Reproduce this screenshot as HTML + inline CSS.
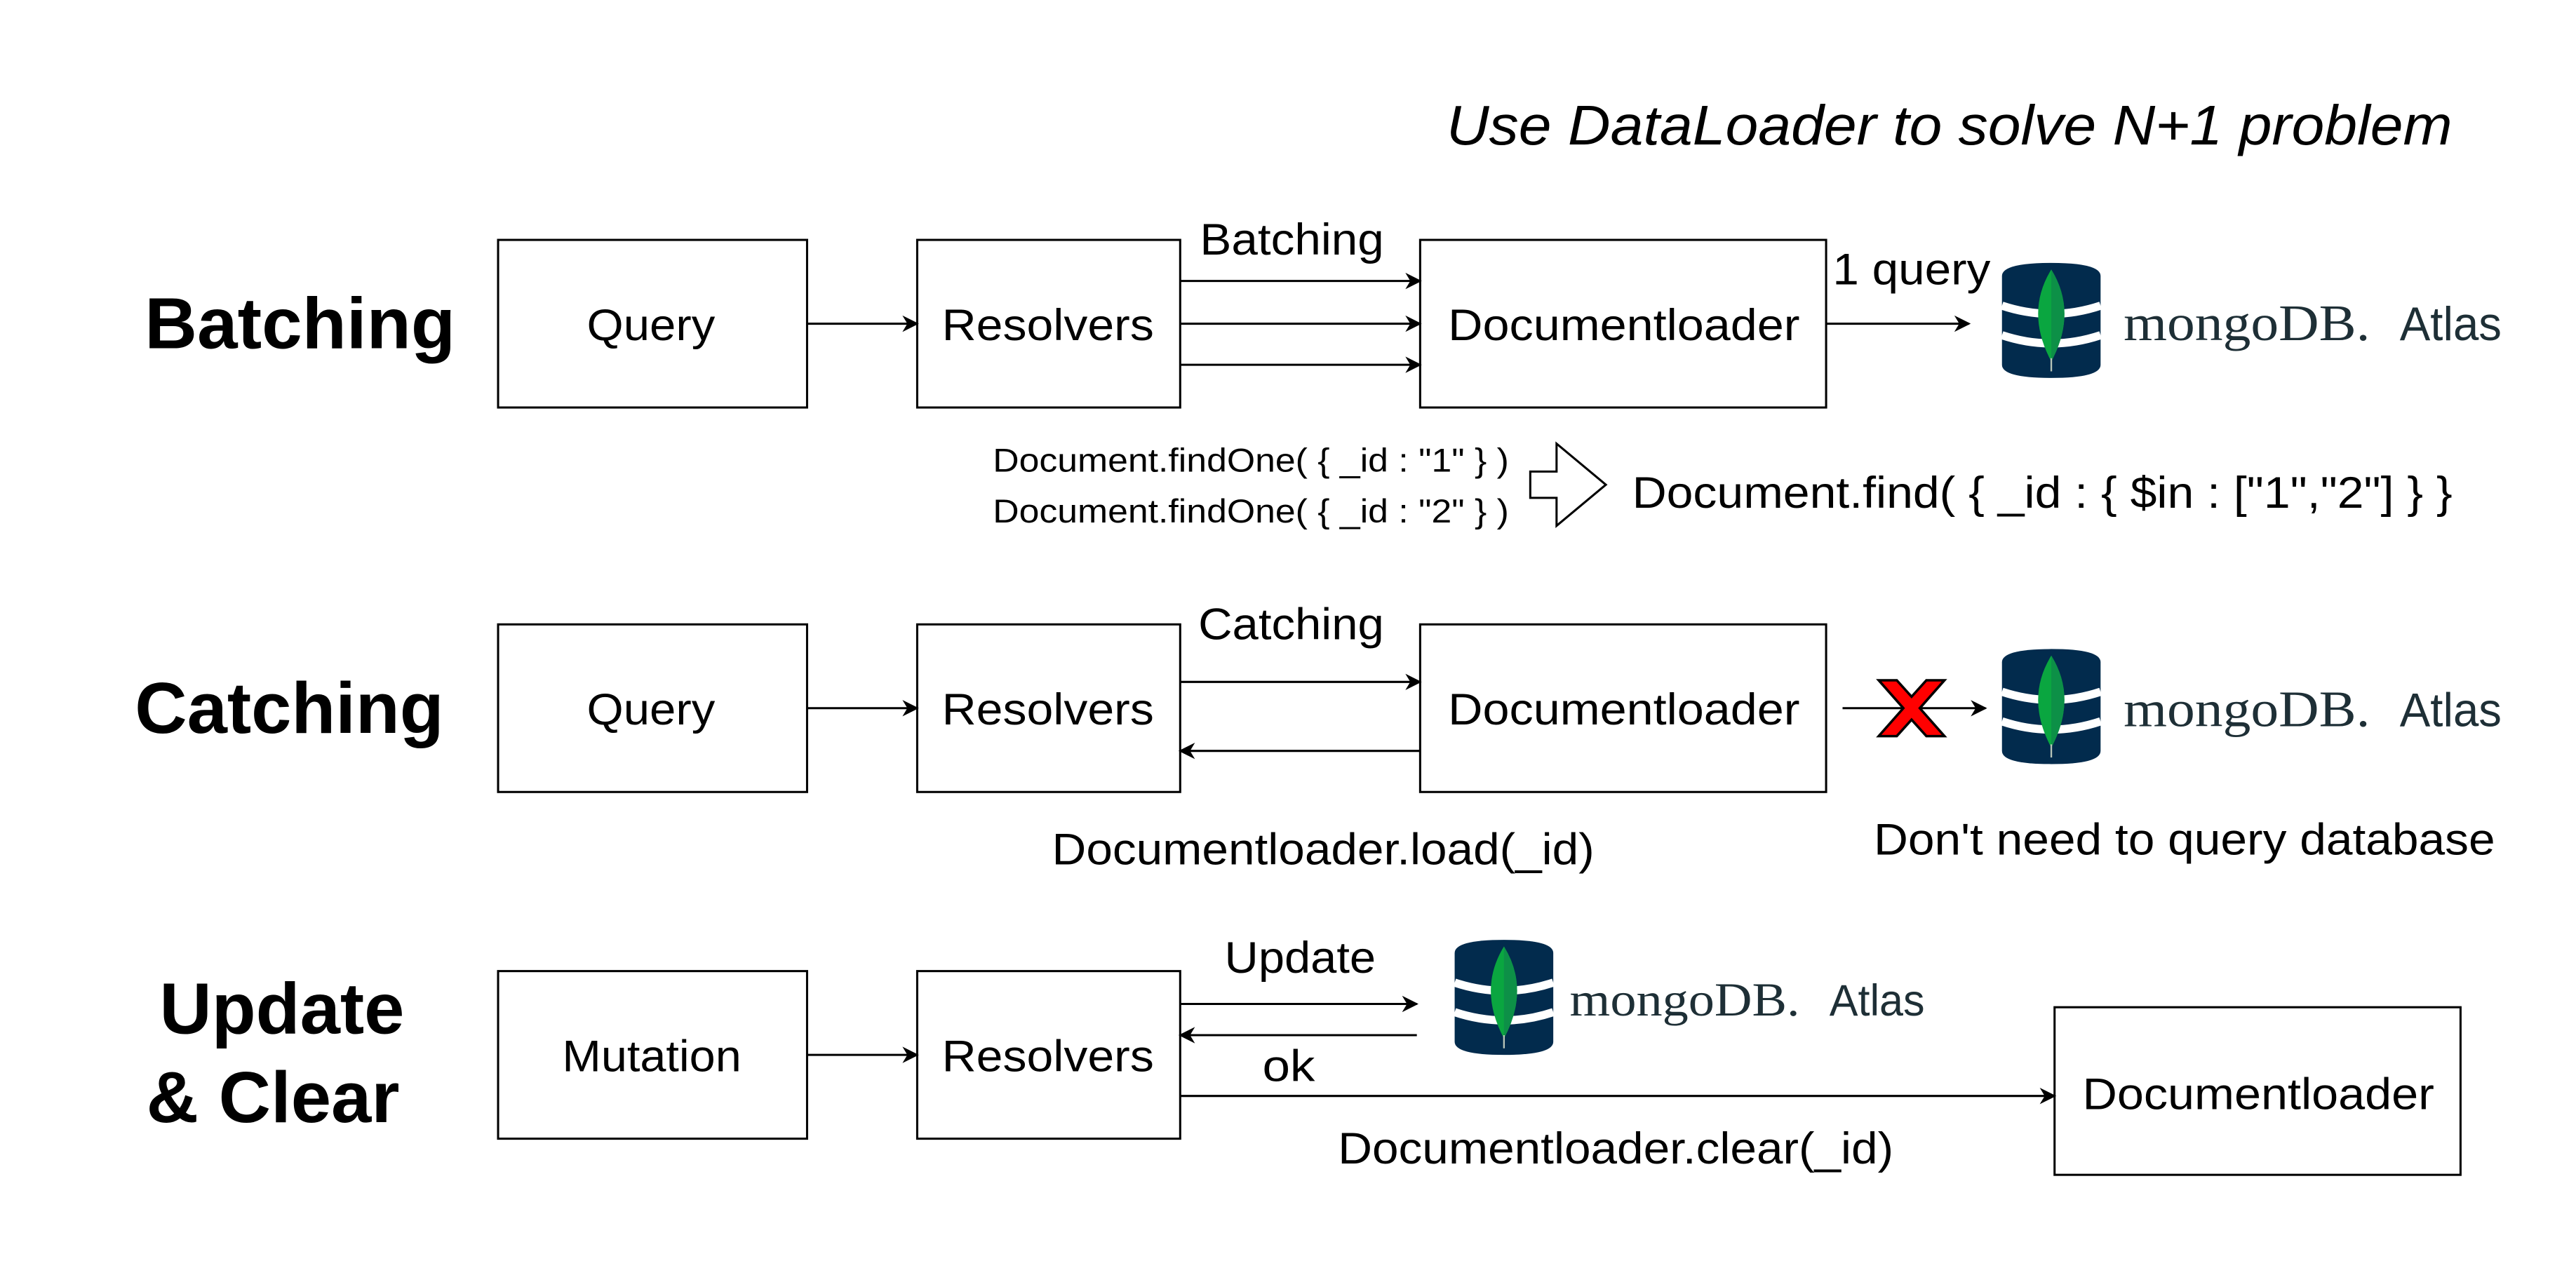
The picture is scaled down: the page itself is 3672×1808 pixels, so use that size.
<!DOCTYPE html>
<html><head><style>html,body{margin:0;padding:0;background:#fff}svg{display:block}text{font-family:"Liberation Sans",sans-serif;fill:#000}</style></head>
<body>
<svg width="3672" height="1808" viewBox="0 0 1567.2 771.7" xmlns="http://www.w3.org/2000/svg">
<defs>
<marker id="a" markerWidth="10" markerHeight="10" refX="9" refY="5" orient="auto" markerUnits="userSpaceOnUse" viewBox="0 0 10 10"><path d="M0,0 L10,5 L0,10 L3,5 Z" fill="#000"/></marker>
<g id="db">
<path d="M0,8 Q0,0 30,0 Q60,0 60,8 L60,62 Q60,70 30,70 Q0,70 0,62 Z" fill="#022b4d"/>
<path d="M0,26 Q30,36 60,26" stroke="#fff" stroke-width="5" fill="none"/>
<path d="M0,44 Q30,54 60,44" stroke="#fff" stroke-width="5" fill="none"/>
<path d="M30,4 Q46,30 30,60 Q14,30 30,4 Z" fill="#0aa640"/>
<path d="M30,4 Q46,30 30,60 Z" fill="#0d9047"/>
<path d="M30,58 L30,66" stroke="#b8c4b8" stroke-width="1"/>
</g>
</defs>
<g fill="#fff" stroke="#000" stroke-width="1.3">
<rect x="303" y="146" width="188" height="102"/><rect x="558" y="146" width="160" height="102"/><rect x="864" y="146" width="247" height="102"/>
<rect x="303" y="380" width="188" height="102"/><rect x="558" y="380" width="160" height="102"/><rect x="864" y="380" width="247" height="102"/>
<rect x="303" y="591" width="188" height="102"/><rect x="558" y="591" width="160" height="102"/><rect x="1250" y="613" width="247" height="102"/>
</g>
<g stroke="#000" stroke-width="1.3" marker-end="url(#a)">
<line x1="491" y1="197" x2="558" y2="197"/>
<line x1="718" y1="171" x2="864" y2="171"/><line x1="718" y1="197" x2="864" y2="197"/><line x1="718" y1="222" x2="864" y2="222"/>
<line x1="1111" y1="197" x2="1198" y2="197"/>
<line x1="491" y1="431" x2="558" y2="431"/>
<line x1="718" y1="415" x2="864" y2="415"/><line x1="864" y1="457" x2="718" y2="457"/>
<line x1="1121" y1="431" x2="1208" y2="431"/>
<line x1="491" y1="642" x2="558" y2="642"/>
<line x1="718" y1="611" x2="862" y2="611"/><line x1="862" y1="630" x2="718" y2="630"/>
<line x1="718" y1="667" x2="1250" y2="667"/>
</g>
<path d="M1143,414 L1154,414 L1163,424 L1172,414 L1183,414 L1168,431 L1183,448 L1172,448 L1163,438 L1154,448 L1143,448 L1158,431 Z" fill="#f00" stroke="#000" stroke-width="1.5"/>
<path d="M931,287 L947,287 L947,270 L977,295 L947,320 L947,303 L931,303 Z" fill="#fff" stroke="#000" stroke-width="1.3"/>
<use href="#db" x="1218" y="160"/><use href="#db" x="1218" y="395"/><use href="#db" x="885" y="572"/>
<g style="font-family:'Liberation Serif',serif" font-size="31">
<text x="1292" y="207" textLength="150" lengthAdjust="spacingAndGlyphs" style="fill:#1e2f36;font-family:'Liberation Serif',serif">mongoDB.</text>
<text x="1292" y="442" textLength="150" lengthAdjust="spacingAndGlyphs" style="fill:#1e2f36;font-family:'Liberation Serif',serif">mongoDB.</text>
<text x="955" y="618" font-size="29" textLength="140" lengthAdjust="spacingAndGlyphs" style="fill:#1e2f36;font-family:'Liberation Serif',serif">mongoDB.</text>
</g>
<text x="1460" y="207" font-size="29" textLength="62" lengthAdjust="spacingAndGlyphs" style="fill:#1e2f36">Atlas</text>
<text x="1460" y="442" font-size="29" textLength="62" lengthAdjust="spacingAndGlyphs" style="fill:#1e2f36">Atlas</text>
<text x="1113" y="618" font-size="27" textLength="58" lengthAdjust="spacingAndGlyphs" style="fill:#1e2f36">Atlas</text>
<g lengthAdjust="spacingAndGlyphs">
<text x="880" y="88" font-size="34" font-style="italic" textLength="612" lengthAdjust="spacingAndGlyphs">Use DataLoader to solve N+1 problem</text>
<g font-weight="bold" font-size="44">
<text x="88" y="212" textLength="189" lengthAdjust="spacingAndGlyphs">Batching</text>
<text x="82" y="446" textLength="188" lengthAdjust="spacingAndGlyphs">Catching</text>
<text x="97" y="629" textLength="149" lengthAdjust="spacingAndGlyphs">Update</text>
<text x="89" y="683" textLength="154" lengthAdjust="spacingAndGlyphs">&amp; Clear</text>
</g>
<g font-size="27">
<text x="357" y="207" textLength="78" lengthAdjust="spacingAndGlyphs">Query</text>
<text x="573" y="207" textLength="129" lengthAdjust="spacingAndGlyphs">Resolvers</text>
<text x="881" y="207" textLength="214" lengthAdjust="spacingAndGlyphs">Documentloader</text>
<text x="357" y="441" textLength="78" lengthAdjust="spacingAndGlyphs">Query</text>
<text x="573" y="441" textLength="129" lengthAdjust="spacingAndGlyphs">Resolvers</text>
<text x="881" y="441" textLength="214" lengthAdjust="spacingAndGlyphs">Documentloader</text>
<text x="342" y="652" textLength="109" lengthAdjust="spacingAndGlyphs">Mutation</text>
<text x="573" y="652" textLength="129" lengthAdjust="spacingAndGlyphs">Resolvers</text>
<text x="1267" y="675" textLength="214" lengthAdjust="spacingAndGlyphs">Documentloader</text>
<text x="730" y="155" textLength="112" lengthAdjust="spacingAndGlyphs">Batching</text>
<text x="1115" y="173" textLength="96" lengthAdjust="spacingAndGlyphs">1 query</text>
<text x="729" y="389" textLength="113" lengthAdjust="spacingAndGlyphs">Catching</text>
<text x="640" y="526" textLength="330" lengthAdjust="spacingAndGlyphs">Documentloader.load(_id)</text>
<text x="1140" y="520" textLength="378" lengthAdjust="spacingAndGlyphs">Don't need to query database</text>
<text x="745" y="592" textLength="92" lengthAdjust="spacingAndGlyphs">Update</text>
<text x="768" y="658" textLength="32" lengthAdjust="spacingAndGlyphs">ok</text>
<text x="814" y="708" textLength="338" lengthAdjust="spacingAndGlyphs">Documentloader.clear(_id)</text>
</g>
<text x="604" y="287" font-size="20" textLength="314" lengthAdjust="spacingAndGlyphs">Document.findOne( { _id : "1" } )</text>
<text x="604" y="318" font-size="20" textLength="314" lengthAdjust="spacingAndGlyphs">Document.findOne( { _id : "2" } )</text>
<text x="993" y="309" font-size="27" textLength="499" lengthAdjust="spacingAndGlyphs">Document.find( { _id : { $in : ["1","2"] } }</text>
</g>
</svg>
</body></html>
